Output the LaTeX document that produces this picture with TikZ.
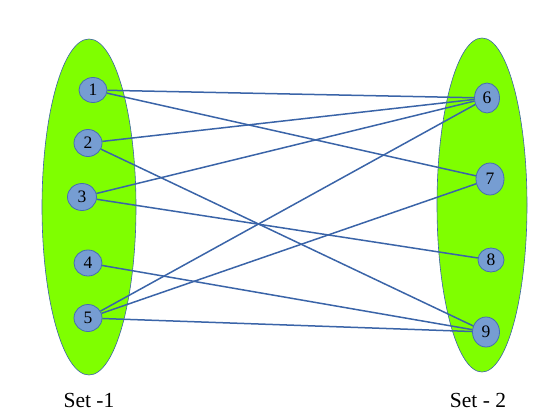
\documentclass[tikz,border=0pt]{standalone}
\usepackage{fontspec}
\setmainfont{Liberation Serif}
\usetikzlibrary{shapes.geometric}
\definecolor{setgreen}{RGB}{127,255,0}
\definecolor{setborder}{RGB}{60,100,165}
\definecolor{vfill}{RGB}{118,157,210}
\definecolor{vborder}{RGB}{70,110,175}
\definecolor{edgecol}{RGB}{58,100,168}
\tikzset{
  setellipse/.style={ellipse, draw=setborder, line width=0.6pt, fill=setgreen, inner sep=0pt},
  vertex/.style={ellipse, draw=vborder, line width=0.8pt, fill=vfill, inner sep=0pt, font=\fontsize{17.5}{19}\selectfont},
  edge/.style={draw=edgecol, line width=1.5pt},
  setlabel/.style={font=\fontsize{21.5}{24}\selectfont, inner sep=0pt}
}
\begin{document}
\begin{tikzpicture}[x=1pt,y=-1pt]
\useasboundingbox (0,0) rectangle (554,416);
\node[setellipse, minimum width=94, minimum height=336] (L) at (89,207) {};
\node[setellipse, minimum width=90, minimum height=334] (R) at (482,205) {};
\node[vertex, minimum width=28, minimum height=25] (n1) at (93,90) {1};
\node[vertex, minimum width=28, minimum height=27] (n2) at (88,143) {2};
\node[vertex, minimum width=29, minimum height=27] (n3) at (82,197) {3};
\node[vertex, minimum width=28, minimum height=26] (n4) at (88,263) {4};
\node[vertex, minimum width=28, minimum height=27] (n5) at (88,318) {5};
\node[vertex, minimum width=25, minimum height=30] (n6) at (487,98) {6};
\node[vertex, minimum width=28, minimum height=32] (n7) at (490,179) {7};
\node[vertex, minimum width=26, minimum height=24] (n8) at (491,260) {8};
\node[vertex, minimum width=27, minimum height=30] (n9) at (486,332) {9};
\draw[edge] (n1) -- (n6);
\draw[edge] (n1) -- (n7);
\draw[edge] (n2) -- (n6);
\draw[edge] (n2) -- (n9);
\draw[edge] (n3) -- (n6);
\draw[edge] (n3) -- (n8);
\draw[edge] (n4) -- (n9);
\draw[edge] (n5) -- (n6);
\draw[edge] (n5) -- (n7);
\draw[edge] (n5) -- (n9);
\node[setlabel] (s1) at (89,400) {Set -1};
\node[setlabel] (s2) at (478,400) {Set - 2};
\end{tikzpicture}
\end{document}
